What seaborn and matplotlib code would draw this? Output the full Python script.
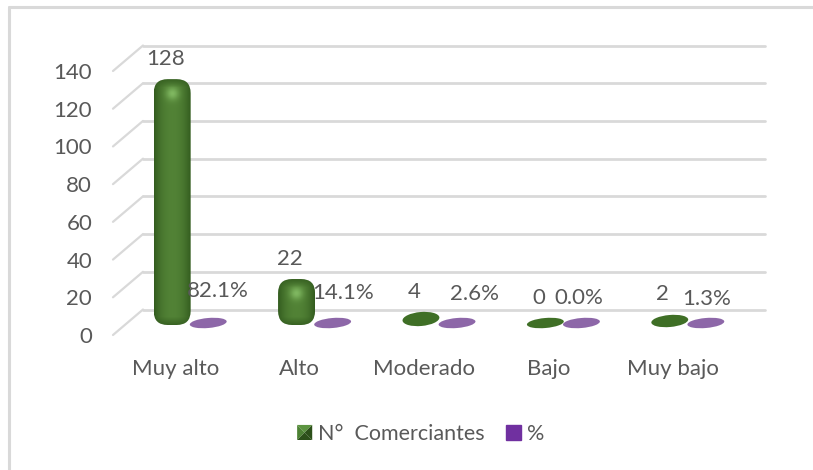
import numpy as np
import pandas as pd
import matplotlib
matplotlib.use('Agg')
import matplotlib.pyplot as plt
import seaborn as sns
from matplotlib.legend_handler import HandlerBase
from matplotlib.lines import Line2D
from matplotlib.patches import Ellipse, FancyBboxPatch, Patch, Polygon
from matplotlib.transforms import Affine2D, IdentityTransform

# datos
niveles = ['Muy alto', 'Alto', 'Moderado', 'Bajo', 'Muy bajo']
comerciantes = [128, 22, 4, 0, 2]
porcentaje = [0.821, 0.141, 0.026, 0.0, 0.013]
etiquetas_com = ['128', '22', '4', '0', '2']
etiquetas_pct = ['82.1%', '14.1%', '2.6%', '0.0%', '1.3%']
serie_com = 'N°  Comerciantes'
serie_pct = '%'
y_ticks = [0, 20, 40, 60, 80, 100, 120, 140]

# ajuste fino de las etiquetas de % (px)
pct_dx = [10, 10, 17, -3, 1]
pct_y = [291, 293, 294, 298, 299]

W, H = 813, 470
GRIS = '#595959'
GRID = '#d9d9d9'
VERDE = '#3f6f26'
MORADO = '#8d67a8'


def py(y):
    # pixel desde arriba -> pixel de matplotlib
    return H - y


sns.set_theme(style='white')
plt.rcParams['font.family'] = ['Lato', 'DejaVu Sans']

fig = plt.figure(figsize=(W / 100, H / 100), dpi=100, facecolor='white')
# plano frontal del grafico 3D
ax = fig.add_axes([113 / W, (H - 335) / H, (735 - 113) / W, (335 - 71) / H])

df = pd.DataFrame({
    'nivel': niveles * 2,
    'serie': [serie_com] * 5 + [serie_pct] * 5,
    'valor': comerciantes + porcentaje,
})
sns.barplot(data=df, x='nivel', y='valor', hue='serie', order=niveles,
            hue_order=[serie_com, serie_pct], palette=[VERDE, MORADO],
            width=0.58, gap=0, legend=False, ax=ax)
ax.set_xlim(-0.5, 4.5)
ax.set_ylim(0, 140)
ax.set_yticks(y_ticks)
ax.set_xlabel('')
ax.set_ylabel('')
sns.despine(ax=ax, left=True, bottom=True)
ax.patch.set_alpha(0)
ax.tick_params(axis='x', length=0, pad=17.5, labelsize=16, labelcolor=GRIS)
ax.tick_params(axis='y', length=0, pad=15, labelsize=16, labelcolor=GRIS)

# piso y paredes en perspectiva
back = Affine2D().translate(30, 25.5)
for t in y_ticks:
    p0 = ax.transData.transform((-0.5, t))
    p1 = p0 + (30, 25.5)
    fig.add_artist(Line2D([p0[0], p1[0]], [p0[1], p1[1]], color=GRID, lw=1.6,
                          transform=IdentityTransform()))
    ax.plot([-0.5, 4.5], [t, t], color=GRID, lw=2, clip_on=False, zorder=0.5,
            transform=ax.transData + back)


def sombreado(ancho, alto):
    # relleno del cilindro: oscuro en los bordes, brillo arriba
    xx, yy = np.meshgrid(np.linspace(-1, 1, 60), np.linspace(0, alto, max(int(alto), 2)))
    oscuro = np.array([0.20, 0.36, 0.12])
    claro = np.array([0.32, 0.51, 0.21])
    brillo = np.array([0.50, 0.72, 0.38])
    f = np.clip(1 - np.abs(xx) ** 2.2, 0, 1)[..., None]
    img = oscuro + (claro - oscuro) * f
    dist = np.hypot(xx * ancho / 2, yy - 14)
    g = np.exp(-(dist / 6.5) ** 2)[..., None]
    img = img + (brillo - img) * g
    # borde superior e inferior mas oscuros
    borde = np.clip(1 - np.minimum(yy, alto - yy) / 8, 0, 1)[..., None]
    return img + (oscuro - img) * borde * 0.8


def dibuja_columna(cx, base, tope, ancho):
    caja = FancyBboxPatch((cx - ancho / 2 + 14, py(base) + 14), ancho - 28, base - tope - 28,
                          boxstyle='round,pad=14,rounding_size=14', transform=IdentityTransform(),
                          facecolor='none', edgecolor='none')
    ax.add_patch(caja)
    im = ax.imshow(sombreado(ancho, base - tope), aspect='auto', interpolation='bilinear',
                   extent=(cx - ancho / 2, cx + ancho / 2, py(base), py(tope)),
                   origin='upper', transform=IdentityTransform(), zorder=3)
    im.set_clip_path(caja)


def dibuja_disco(cx, cy, ancho, alto, color):
    ax.add_patch(Ellipse((cx, py(cy)), ancho, alto, angle=5, facecolor=color, edgecolor='none',
                         transform=IdentityTransform(), zorder=3))


fig.canvas.draw()
# las barras de seaborn dan la posicion, se sustituyen por las formas 3D
for i, (b_com, b_pct) in enumerate(zip(ax.containers[0], ax.containers[1])):
    b_com.set_visible(False)
    b_pct.set_visible(False)
    x0 = b_com.get_x() + b_com.get_width() / 2
    x1 = b_pct.get_x() + b_pct.get_width() / 2
    cx, y_val = ax.transData.transform((x0, comerciantes[i]))
    cx2, _ = ax.transData.transform((x1, porcentaje[i]))
    cx, cx2 = cx + 15, cx2 + 15
    tope = H - y_val - 12.5
    if comerciantes[i] >= 10:
        dibuja_columna(cx, 325, tope - 2, 37)
        top_lbl = tope - 2
    else:
        h = 10 + comerciantes[i]
        cy = 323 - comerciantes[i]
        dibuja_disco(cx, cy, 37, h, VERDE)
        top_lbl = cy - h / 2 - 0.5
    dibuja_disco(cx2, 323, 37, 10, MORADO)
    ax.text(cx - 7, py(top_lbl - 20), etiquetas_com[i], transform=IdentityTransform(),
            ha='center', va='center', color=GRIS, fontsize=16, zorder=5)
    ax.text(cx2 + pct_dx[i], py(pct_y[i]), etiquetas_pct[i], transform=IdentityTransform(),
            ha='center', va='center', color=GRIS, fontsize=16, zorder=5)
ax.set_xlim(-0.5, 4.5)
ax.set_ylim(0, 140)


class HandlerPiramide(HandlerBase):
    # muestra verde con caras como en Excel
    def create_artists(self, legend, orig, xd, yd, w, h, fontsize, trans):
        x0, y0 = -xd, -yd
        c = (x0 + w / 2, y0 + h / 2)
        esq = [(x0, y0), (x0, y0 + h), (x0 + w, y0 + h), (x0 + w, y0)]
        cols = ['#4d8234', '#5c9440', '#2c5019', '#2c5019']
        out = []
        for k in range(4):
            out.append(Polygon([esq[k], esq[(k + 1) % 4], c], closed=True, facecolor=cols[k],
                               edgecolor='none', transform=trans))
        return out


handles = [Patch(color=VERDE, label=serie_com), Patch(color='#7030a0', label=serie_pct)]
fig.legend(handles=handles, loc='center', bbox_to_anchor=(421 / W, py(434) / H), frameon=False,
           ncol=2, fontsize=15.5, labelcolor=GRIS, handlelength=0.7, handleheight=0.7,
           handletextpad=0.28, columnspacing=1.0,
           handler_map={handles[0]: HandlerPiramide()})

# marco exterior (solo arriba e izquierda)
fig.add_artist(Line2D([8.5, 8.5], [0, H - 7], color=GRID, lw=2.2, transform=IdentityTransform()))
fig.add_artist(Line2D([8.5, W], [H - 7, H - 7], color=GRID, lw=2.2, transform=IdentityTransform()))

fig.savefig('out.png', dpi=100)
